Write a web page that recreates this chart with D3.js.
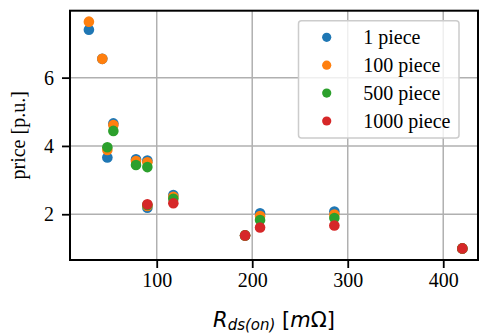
<!DOCTYPE html>
<html><head><meta charset="utf-8">
<script src="https://cdn.jsdelivr.net/npm/d3@7"></script>
<style>body{margin:0;background:#fff}svg{display:block}</style>
</head><body>
<svg id="c" width="479" height="334"></svg>
<script>
const seriesNames = ["1 piece", "100 piece", "500 piece", "1000 piece"];
const seriesColors = ["#1f77b4", "#ff7f0e", "#2ca02c", "#d62728"];
const rdsOn1 = [29, 43, 48.3, 54.6, 78.3, 90.2, 90.2, 117.4, 192.5, 208.2, 286, 420];
const price1 = [7.40, 6.55, 3.66, 4.66, 3.61, 3.57, 2.19, 2.56, 1.38, 2.03, 2.08, 1.0];
const rdsOn100 = [29, 43, 48.3, 54.6, 78.3, 90.2, 90.2, 117.4, 192.5, 208.2, 286, 420];
const price100 = [7.64, 6.55, 3.88, 4.61, 3.56, 3.52, 2.24, 2.51, 1.38, 1.95, 1.99, 1.0];
const rdsOn500 = [48.3, 54.6, 78.3, 90.2, 90.2, 117.4, 192.5, 208.2, 286, 420];
const price500 = [3.96, 4.44, 3.44, 3.38, 2.27, 2.45, 1.38, 1.83, 1.89, 1.0];
const rdsOn1000 = [90.2, 117.4, 192.5, 208.2, 286, 420];
const price1000 = [2.29, 2.32, 1.38, 1.61, 1.67, 1.0];
const xTicks = [100, 200, 300, 400];
const yTicks = [2, 4, 6];

const series = [
  {x: rdsOn1, y: price1},
  {x: rdsOn100, y: price100},
  {x: rdsOn500, y: price500},
  {x: rdsOn1000, y: price1000}
];

const L = 70, R = 478, T = 10.7, B = 260;
const svg = d3.select("#c");
const x = d3.scaleLinear().domain([9.2, 436.4]).range([L, R]);
const y = d3.scaleLinear().domain([0.66, 7.96]).range([B, T]);
const serif = "'Liberation Serif', 'Times New Roman', serif";

// grid
const g = svg.append("g");
g.selectAll("line.gx").data(xTicks).enter().append("line")
  .attr("x1", d => x(d)).attr("x2", d => x(d)).attr("y1", T).attr("y2", B)
  .attr("stroke", "#b0b0b0").attr("stroke-width", 1.5);
g.selectAll("line.gy").data(yTicks).enter().append("line")
  .attr("x1", L).attr("x2", R).attr("y1", d => y(d)).attr("y2", d => y(d))
  .attr("stroke", "#b0b0b0").attr("stroke-width", 1.5);

// points
series.forEach((s, i) => {
  svg.append("g").selectAll("circle").data(s.x.map((v, j) => [v, s.y[j]])).enter()
    .append("circle")
    .attr("cx", d => x(d[0])).attr("cy", d => y(d[1])).attr("r", 5.3)
    .attr("fill", seriesColors[i]);
});

// axes
const xAxis = svg.append("g").attr("transform", `translate(0,${B})`)
  .call(d3.axisBottom(x).tickValues(xTicks).tickSize(8).tickPadding(5).tickFormat(d3.format("d")));
const yAxis = svg.append("g").attr("transform", `translate(${L},0)`)
  .call(d3.axisLeft(y).tickValues(yTicks).tickSize(8).tickPadding(8).tickFormat(d3.format("d")));
[xAxis, yAxis].forEach(a => {
  a.select(".domain").remove();
  a.selectAll(".tick line").attr("stroke", "#000").attr("stroke-width", 1.8);
  a.selectAll(".tick text").attr("font-family", serif).attr("font-size", 20).attr("fill", "#000");
});

// frame
svg.append("rect").attr("x", L).attr("y", T).attr("width", R - L).attr("height", B - T)
  .attr("fill", "none").attr("stroke", "#000").attr("stroke-width", 2);

// legend
const lg = svg.append("g");
lg.append("rect").attr("x", 298.5).attr("y", 20.7).attr("width", 160.5).attr("height", 117.3)
  .attr("rx", 3).attr("fill", "rgba(255,255,255,0.8)").attr("stroke", "#cccccc").attr("stroke-width", 1.5);
seriesNames.forEach((n, i) => {
  const yy = 37.3 + i * 27.9;
  lg.append("circle").attr("cx", 326.7).attr("cy", yy).attr("r", 4.6).attr("fill", seriesColors[i]);
  lg.append("text").attr("x", 363.3).attr("y", yy).attr("dy", "0.35em")
    .attr("font-family", serif).attr("font-size", 20).attr("fill", "#000").text(n);
});

// y label
svg.append("text").attr("transform", `translate(25,${(T + B) / 2}) rotate(-90)`)
  .attr("text-anchor", "middle").attr("font-family", serif).attr("font-size", 20).attr("fill", "#000")
  .text("price [p.u.]");

// x label
const xl = svg.append("text").attr("x", (L + R) / 2).attr("y", 327).attr("text-anchor", "middle")
  .attr("font-family", "'DejaVu Sans', sans-serif").attr("font-size", 21).attr("fill", "#000");
xl.append("tspan").attr("font-style", "italic").text("R");
xl.append("tspan").attr("font-style", "italic").attr("font-size", 15).attr("dy", 2.5).text("ds(on)");
xl.append("tspan").attr("dy", -2.5).text("\u00a0[");
xl.append("tspan").attr("font-style", "italic").text("m");
xl.append("tspan").text("\u03A9]");
</script>
</body></html>
